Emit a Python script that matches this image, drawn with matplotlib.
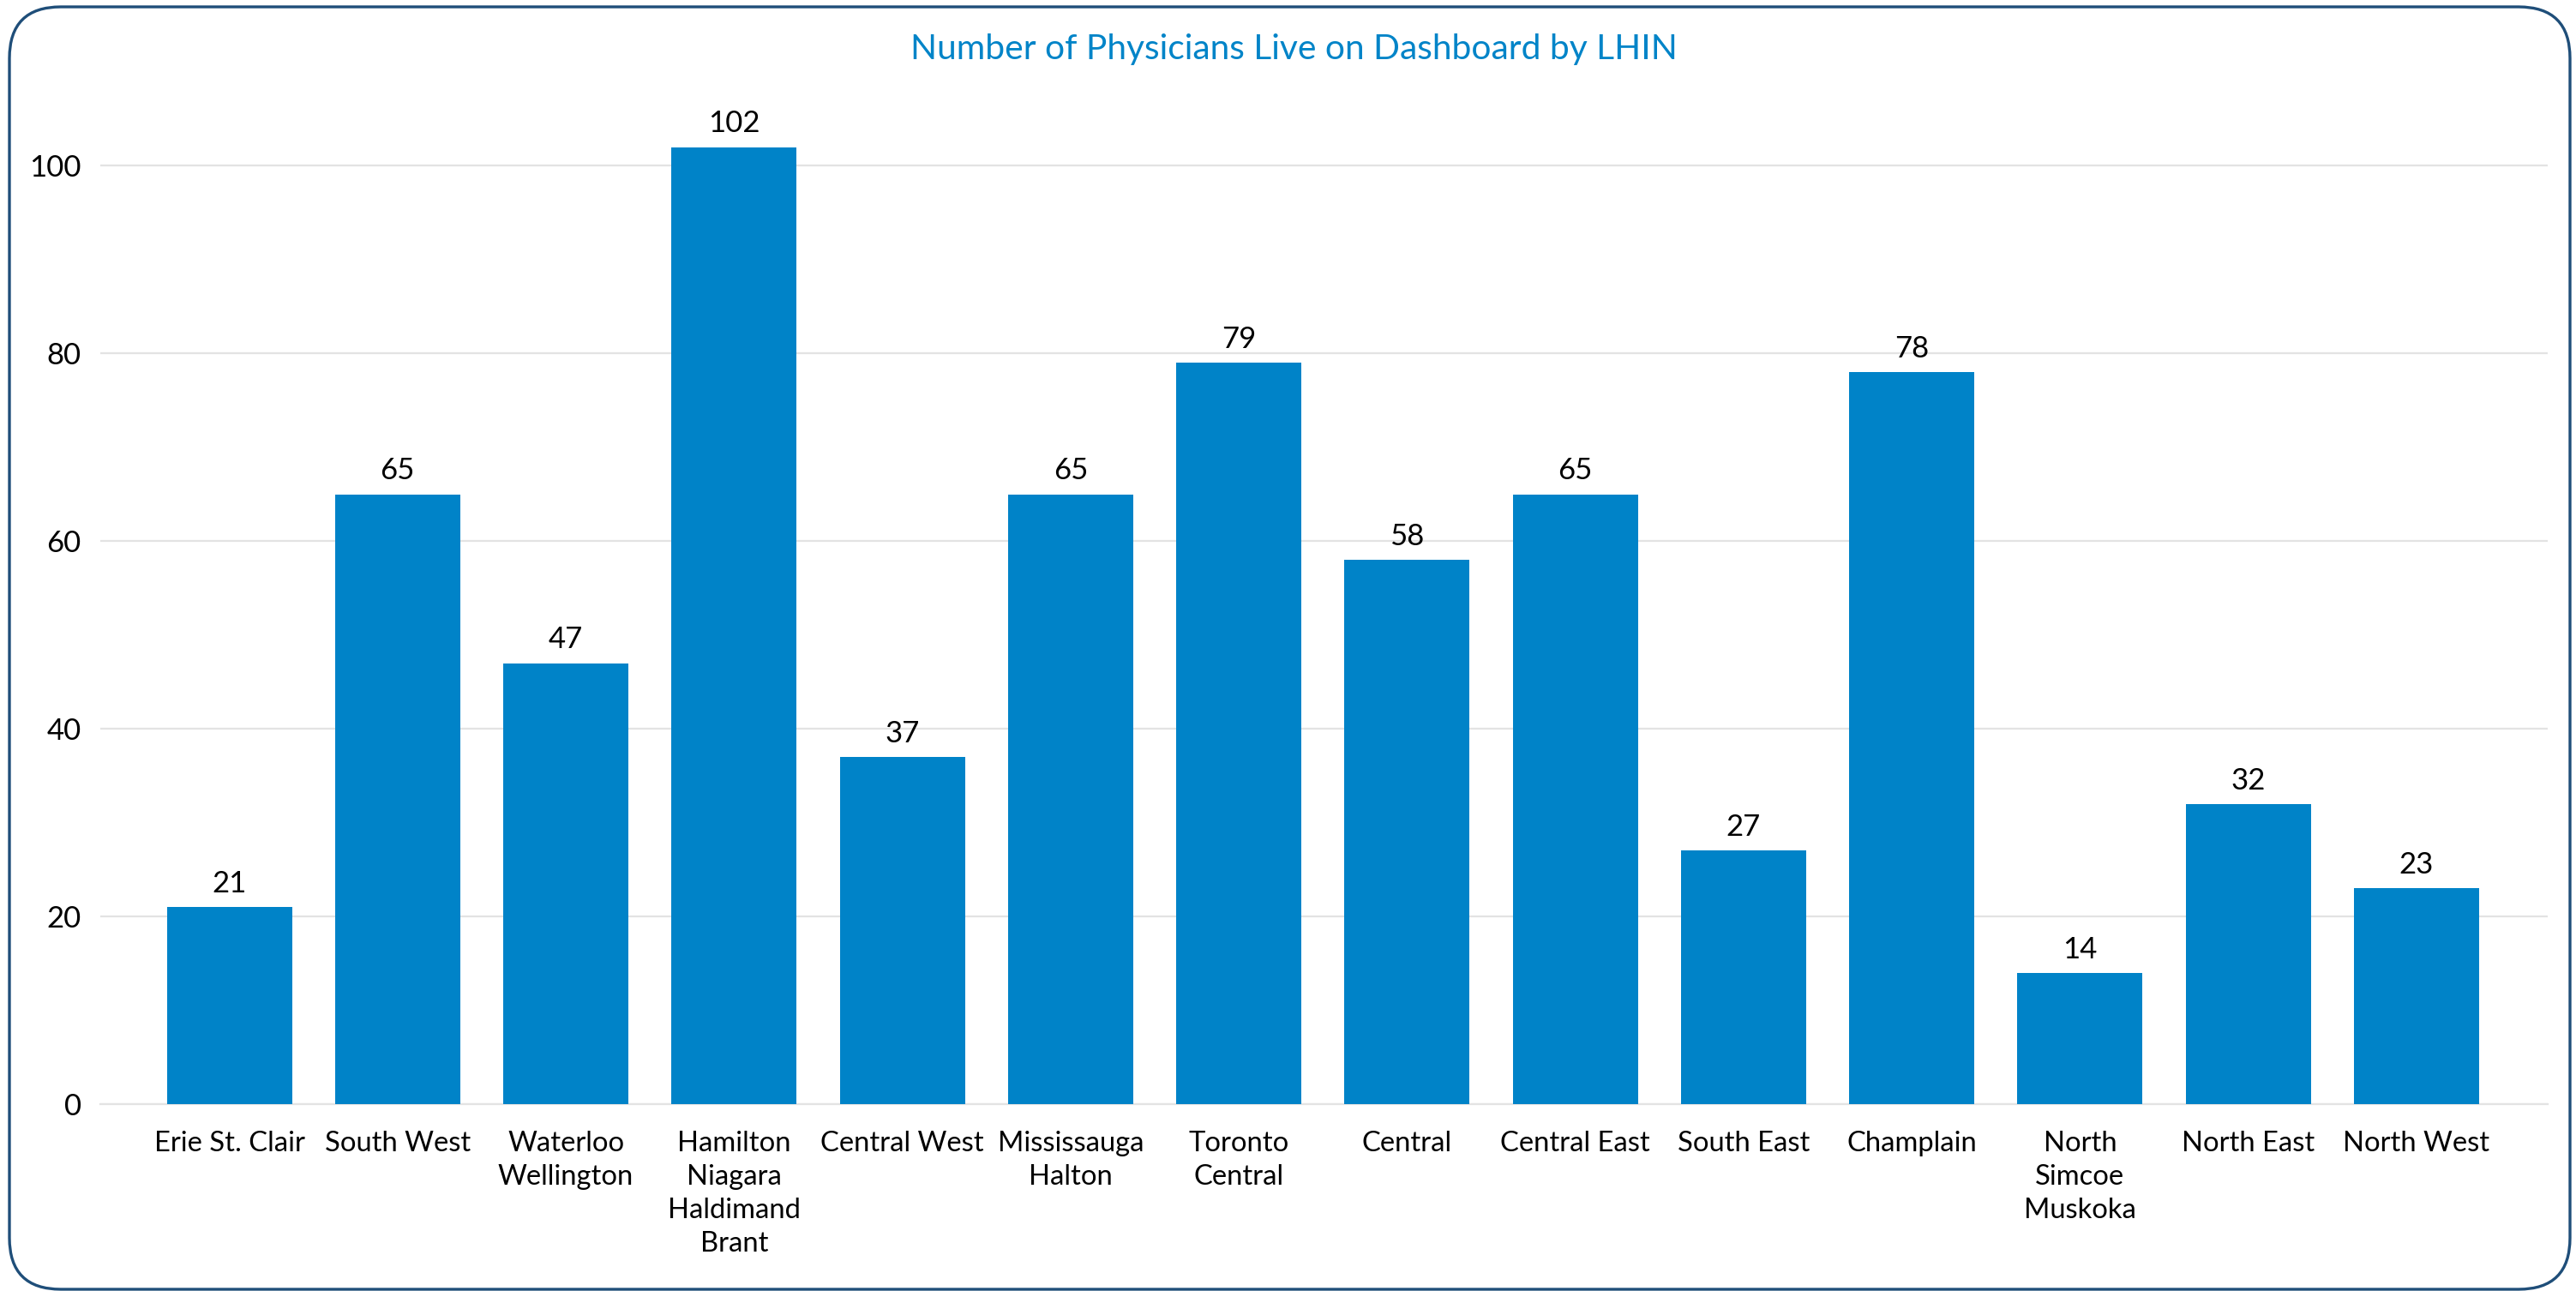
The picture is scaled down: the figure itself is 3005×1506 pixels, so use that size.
import matplotlib
matplotlib.use("Agg")
import matplotlib.pyplot as plt
from matplotlib.patches import FancyBboxPatch

categories = ["Erie St. Clair", "South West", "Waterloo\nWellington",
              "Hamilton\nNiagara\nHaldimand\nBrant", "Central West",
              "Mississauga\nHalton", "Toronto\nCentral", "Central",
              "Central East", "South East", "Champlain",
              "North\nSimcoe\nMuskoka", "North East", "North West"]
values = [21, 65, 47, 102, 37, 65, 79, 58, 65, 27, 78, 14, 32, 23]
yticks = [0, 20, 40, 60, 80, 100]
title = "Number of Physicians Live on Dashboard by LHIN"

plt.rcParams['font.family'] = ['Lato', 'DejaVu Sans']

W, H, DPI = 3005, 1506, 200
fig = plt.figure(figsize=(W / DPI, H / DPI), dpi=DPI)
fig.patch.set_facecolor("white")

ax = fig.add_axes([117 / W, 1 - 1288 / H, (2972 - 117) / W, 0.7995])
bar_color = "#0083C8"
x = list(range(len(categories)))
ax.bar(x, values, width=0.744, color=bar_color, zorder=3)

ax.set_xlim(-0.767, 13.78)
ax.set_ylim(0, 110)
ax.set_yticks(yticks)
ax.set_yticklabels([str(t) for t in yticks], fontsize=12.5, color="#000000")
ax.set_xticks(x)
ax.set_xticklabels(categories, fontsize=11.8, color="#000000", linespacing=1.38)
ax.tick_params(axis="both", length=0)
ax.tick_params(axis="y", pad=8)
ax.tick_params(axis="x", pad=11)
ax.grid(axis="y", color="#E3E3E3", linewidth=0.8, zorder=0)
for s in ["top", "right", "left"]:
    ax.spines[s].set_visible(False)
ax.spines["bottom"].set_color("#E3E3E3")
ax.spines["bottom"].set_linewidth(0.8)

for xi, v in zip(x, values):
    ax.annotate(str(v), (xi, v), xytext=(0, 4), textcoords="offset points",
                ha="center", va="bottom", fontsize=12.5, color="#000000",
                annotation_clip=False)

fig.text(1509 / W, 1 - 57 / H, title, ha="center", va="center",
         fontsize=14.7, color="#0084C8")

border = FancyBboxPatch((11 / DPI, 2 / DPI), (2998 - 11) / DPI, (1504 - 8) / DPI,
                        boxstyle="round,pad=0,rounding_size=0.3",
                        transform=fig.dpi_scale_trans, fill=False,
                        edgecolor="#1F4E79", linewidth=1.2)
fig.patches.append(border)

fig.savefig("out.png", dpi=DPI, facecolor="white")
